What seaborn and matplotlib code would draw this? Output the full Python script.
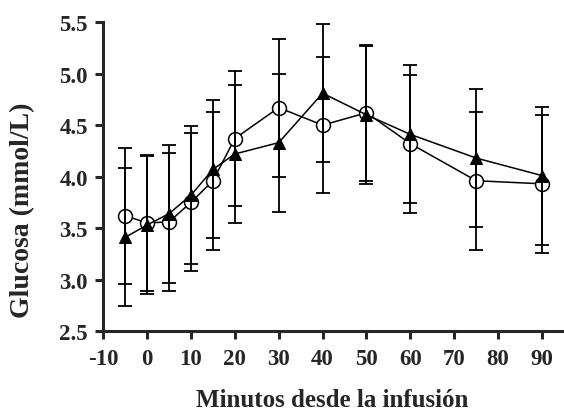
"""Glucosa vs minutos desde la infusión: two groups with error bars."""

import matplotlib
import matplotlib.pyplot as plt
import pandas as pd
import seaborn as sns

matplotlib.use("Agg")

minutes = [-5, 0, 5, 10, 15, 20, 30, 40, 50, 60, 75, 90]
circle_mean = [3.62, 3.55, 3.56, 3.75, 3.96, 4.37, 4.67, 4.50, 4.62, 4.32, 3.96, 3.93]
circle_err = [0.66, 0.66, 0.67, 0.67, 0.67, 0.66, 0.67, 0.66, 0.66, 0.67, 0.67, 0.67]
triangle_mean = [3.41, 3.53, 3.64, 3.82, 4.07, 4.22, 4.33, 4.81, 4.60, 4.41, 4.18, 4.01]
triangle_err = [0.67, 0.67, 0.67, 0.67, 0.67, 0.67, 0.67, 0.67, 0.67, 0.67, 0.67, 0.67]

x_ticks = [-10, 0, 10, 20, 30, 40, 50, 60, 70, 80, 90]
y_ticks = [2.5, 3.0, 3.5, 4.0, 4.5, 5.0, 5.5]


def main():
    sns.set_style("ticks")
    plt.rcParams["font.family"] = ["Liberation Serif", "DejaVu Serif"]
    plt.rcParams["font.weight"] = "bold"
    plt.rcParams["axes.unicode_minus"] = False

    df = pd.DataFrame(
        {
            "minutos": minutes * 2,
            "glucosa": circle_mean + triangle_mean,
            "err": circle_err + triangle_err,
            "grupo": ["circle"] * len(minutes) + ["triangle"] * len(minutes),
        }
    )

    fig = plt.figure(figsize=(5.64, 4.14), dpi=100)
    ax = fig.add_axes([0.183, 0.198, 0.813, 0.746])

    circ = df[df["grupo"] == "circle"]
    tri = df[df["grupo"] == "triangle"]

    sns.lineplot(
        data=circ, x="minutos", y="glucosa", ax=ax, color="black", lw=1.1,
        marker="o", markersize=10, markerfacecolor="white",
        markeredgecolor="black", markeredgewidth=1.1, zorder=2,
    )
    sns.lineplot(
        data=tri, x="minutos", y="glucosa", ax=ax, color="black", lw=1.1,
        marker="^", markersize=9, markerfacecolor="black",
        markeredgecolor="black", zorder=2.5,
    )
    for sub in (circ, tri):
        ax.errorbar(
            sub["minutos"], sub["glucosa"], yerr=sub["err"], fmt="none",
            ecolor="black", elinewidth=1.3, capsize=4.8, capthick=1.3, zorder=3,
        )

    ax.set_xlim(-10, 94.5)
    ax.set_ylim(2.5, 5.5)
    ax.set_xticks(x_ticks)
    ax.set_yticks(y_ticks)
    ax.set_yticklabels([f"{v:.1f}" for v in y_ticks])

    for side in ("top", "right"):
        ax.spines[side].set_visible(False)
    for side in ("left", "bottom"):
        ax.spines[side].set_linewidth(2.2)
    ax.tick_params(direction="out", length=6, width=2.2, labelsize=16.5)
    ax.tick_params(axis="x", pad=6)
    ax.tick_params(axis="y", pad=5)
    for lab in ax.get_xticklabels() + ax.get_yticklabels():
        lab.set_fontweight("bold")

    ax.set_xlabel("Minutos desde la infusión", fontsize=18, fontweight="bold", va="center")
    ax.xaxis.set_label_coords(0.5, -0.222)
    ax.set_ylabel("Glucosa (mmol/L)", fontsize=20, fontweight="bold", va="center")
    ax.yaxis.set_label_coords(-0.176, 0.395)

    fig.savefig("out.png", dpi=100)
    plt.close(fig)


if __name__ == "__main__":
    main()
